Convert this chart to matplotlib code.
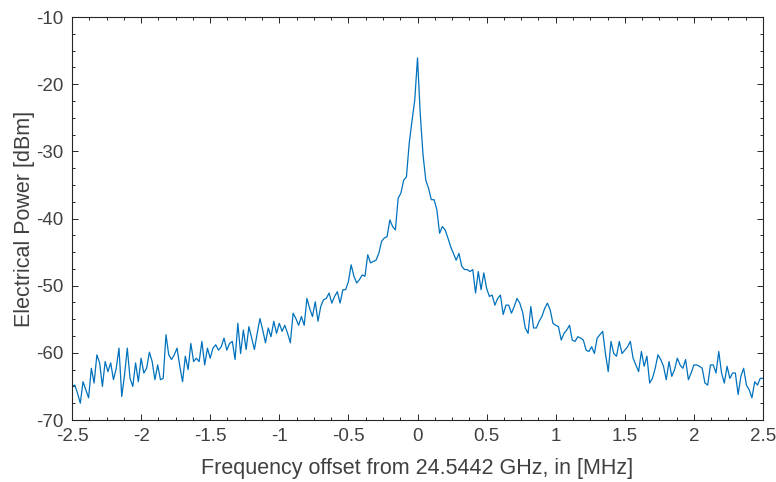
import numpy as np
import matplotlib
matplotlib.use("Agg")
import matplotlib.pyplot as plt
from matplotlib.ticker import MultipleLocator

# frequency bins, 0.02 MHz apart, from -2.5 to 2.5 MHz
freq_start = -2.5
freq_step = 0.02

# power, one value per bin [dBm]
power = [
    -65.0, -64.8, -66.0, -67.5, -64.3, -65.5, -66.7, -62.3, -64.5, -60.3,
    -61.5, -65.0, -61.3, -62.8, -61.5, -64.0, -62.3, -59.3, -66.5, -63.3,
    -59.3, -63.8, -65.0, -61.5, -64.3, -60.8, -63.0, -62.3, -59.9, -61.3,
    -64.0, -61.8, -64.0, -63.8, -57.3, -60.3, -61.0, -60.3, -59.3, -62.0,
    -64.3, -60.5, -62.5, -58.6, -61.3, -60.8, -61.3, -58.3, -61.8, -59.3,
    -60.8, -59.3, -58.8, -59.6, -59.1, -57.8, -59.6, -58.6, -58.3, -61.0,
    -55.6, -60.1, -56.6, -59.5, -56.1, -57.8, -59.5, -57.1, -54.9, -56.6,
    -58.5, -56.3, -57.6, -55.3, -57.1, -55.6, -56.8, -55.9, -57.1, -58.5,
    -54.1, -54.9, -55.9, -54.6, -55.9, -51.9, -53.4, -54.6, -52.4, -55.3,
    -53.1, -52.1, -51.9, -51.1, -52.6, -51.6, -50.9, -52.6, -50.6, -50.6,
    -49.4, -46.9, -48.6, -49.6, -49.1, -48.4, -48.6, -45.4, -46.6, -46.4,
    -46.2, -45.2, -43.4, -42.9, -42.7, -40.2, -41.2, -41.7, -37.0, -36.2,
    -34.3, -33.8, -28.8, -25.5, -22.4, -16.1, -24.5, -30.5, -34.3, -35.5,
    -37.2, -37.2, -38.7, -42.2, -41.2, -41.7, -42.9, -44.2, -45.2, -46.2,
    -45.2, -47.1, -47.6, -47.6, -47.9, -47.6, -51.1, -47.9, -50.6, -48.1,
    -50.4, -51.6, -51.4, -52.9, -51.9, -51.4, -54.3, -52.9, -52.9, -54.1,
    -53.1, -51.9, -52.6, -53.9, -56.3, -57.1, -53.1, -56.3, -56.3, -55.3,
    -54.6, -53.4, -52.6, -53.6, -55.6, -55.9, -56.1, -58.1, -57.1, -56.6,
    -55.9, -58.1, -58.3, -57.6, -57.8, -58.1, -59.6, -59.8, -59.1, -60.1,
    -57.8, -57.3, -56.8, -60.1, -62.8, -58.3, -60.1, -60.5, -58.3, -60.1,
    -59.6, -59.1, -58.3, -60.8, -61.8, -62.8, -59.8, -62.0, -60.5, -64.5,
    -63.8, -62.3, -60.3, -61.0, -62.0, -64.0, -61.3, -63.5, -62.5, -60.8,
    -61.8, -62.3, -61.0, -64.0, -63.0, -61.8, -61.8, -62.0, -62.3, -64.5,
    -64.8, -61.8, -61.8, -63.0, -59.8, -63.0, -64.5, -62.0, -63.8, -63.0,
    -63.0, -66.2, -63.5, -62.3, -64.8, -65.5, -66.7, -64.3, -64.8, -63.8,
    -63.8,
]
freq = freq_start + freq_step * np.arange(len(power))

plt.rcParams["font.family"] = ["Liberation Sans", "DejaVu Sans"]
plt.rcParams["axes.unicode_minus"] = False

ax_color = "#262626"
fig = plt.figure(figsize=(7.76, 4.82), dpi=100)
ax = fig.add_axes([72 / 776, 62 / 482, 691 / 776, 403 / 482])

ax.plot(freq, power, color="#0072BD", linewidth=0.9)

ax.set_xlim(-2.5, 2.5)
ax.set_ylim(-70, -10)
ax.set_xticks(np.arange(-2.5, 2.51, 0.5))
ax.set_xticklabels(["-2.5", "-2", "-1.5", "-1", "-0.5", "0", "0.5", "1", "1.5", "2", "2.5"])
ax.set_yticks(np.arange(-70, -9, 10))
ax.xaxis.set_minor_locator(MultipleLocator(0.125))
ax.yaxis.set_minor_locator(MultipleLocator(2.5))

ax.tick_params(which="both", direction="in", top=True, right=True,
               color=ax_color, labelcolor="#404040", labelsize=13.5, width=0.7)
ax.tick_params(which="major", length=4.5)
ax.tick_params(which="minor", length=2.2)
ax.tick_params(axis="x", which="major", pad=6)
ax.tick_params(axis="y", which="major", pad=6)
for s in ax.spines.values():
    s.set_color(ax_color)
    s.set_linewidth(0.8)

ax.set_xlabel("Frequency offset from 24.5442 GHz, in [MHz]", fontsize=15.5, color="#404040", labelpad=9)
ax.set_ylabel("Electrical Power [dBm]", fontsize=15.5, color="#404040", labelpad=1)

fig.savefig("out.png", dpi=100)
